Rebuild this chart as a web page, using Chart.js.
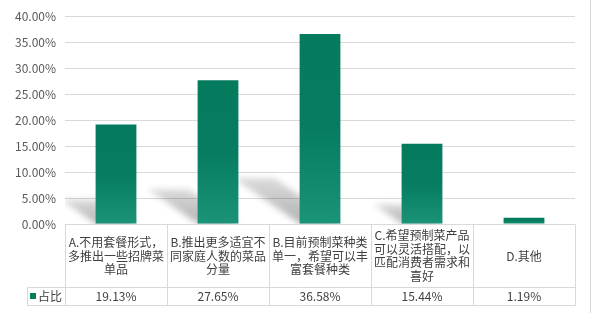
<!DOCTYPE html>
<html>
<head>
<meta charset="utf-8">
<script src="https://cdn.jsdelivr.net/npm/chart.js@4.4.1/dist/chart.umd.min.js"></script>
<style>
  html, body { margin: 0; padding: 0; background: #ffffff; }
  #wrap { width: 591px; height: 313px; }
</style>
</head>
<body>
<div id="wrap"><canvas id="chart" width="591" height="313"></canvas></div>
<script>
// Survey options, one entry per column, already broken into the lines shown in the data table
const categories = [
  ['A.不用套餐形式，', '多推出一些招牌菜', '单品'],
  ['B.推出更多适宜不', '同家庭人数的菜品', '分量'],
  ['B.目前预制菜种类', '单一，希望可以丰', '富套餐种类'],
  ['C.希望预制菜产品', '可以灵活搭配，以', '匹配消费者需求和', '喜好'],
  ['D.其他']
];
const seriesName = '占比';
const shares = [19.13, 27.65, 36.58, 15.44, 1.19];   // percent
const yMin = 0;
const yMax = 40;
const yStep = 5;

const FONT = '"Noto Sans CJK SC", "Microsoft YaHei", sans-serif';
const TEXT = '#404040';
const LINE = '#d9d9d9';
const BAR_DARK = '#057b5e';
const BAR_LIGHT = '#1b9377';

const pct = v => Number(v).toFixed(2) + '%';

// Vertical gradient per bar: deep teal on top, lighter near the floor
function barFill(ctx) {
  const chart = ctx.chart;
  if (!chart.chartArea || ctx.type !== 'data') return BAR_DARK;
  const y = chart.scales.y;
  const top = y.getPixelForValue(ctx.raw);
  const base = y.getPixelForValue(0);
  if (base - top < 1) return BAR_DARK;
  const g = chart.ctx.createLinearGradient(0, top, 0, base);
  g.addColorStop(0, BAR_DARK);
  g.addColorStop(0.5, '#067d60');
  g.addColorStop(1, BAR_LIGHT);
  return g;
}

// Soft perspective shadow cast back and to the left of each bar
const floorShadow = {
  id: 'floorShadow',
  beforeDatasetsDraw(chart) {
    const { ctx, chartArea } = chart;
    const meta = chart.getDatasetMeta(0);
    ctx.save();
    ctx.beginPath();
    ctx.rect(chartArea.left, chartArea.top, chartArea.width, chartArea.height);
    ctx.clip();
    ctx.filter = 'blur(3px)';
    meta.data.forEach(bar => {
      const { x, y, base, width } = bar.getProps(['x', 'y', 'base', 'width'], true);
      const h = base - y;
      const dx = -0.35 * h, dy = -0.24 * h;
      const l = x - width / 2, r = x + width / 2;
      const g = ctx.createLinearGradient(0, base, 0, base + dy);
      g.addColorStop(0, 'rgba(0,0,0,0.30)');
      g.addColorStop(1, 'rgba(0,0,0,0.14)');
      ctx.fillStyle = g;
      ctx.beginPath();
      ctx.moveTo(l, base);
      ctx.lineTo(r, base);
      ctx.lineTo(r + dx, base + dy);
      ctx.lineTo(l + dx, base + dy);
      ctx.closePath();
      ctx.fill();
    });
    ctx.restore();
  }
};

// Data table under the plot: category row, then the value row with legend key
const dataTable = {
  id: 'dataTable',
  afterDraw(chart) {
    const { ctx, chartArea, scales } = chart;
    const n = categories.length;
    const colW = chartArea.width / n;
    const top = Math.round(chartArea.bottom) + 0.5;
    const mid = 287.5;
    const bot = 305.5;
    const keyLeft = 27.5;
    const L = Math.round(chartArea.left) + 0.5;
    const R = Math.round(chartArea.right) + 0.5;

    ctx.save();
    ctx.strokeStyle = LINE;
    ctx.lineWidth = 1;
    ctx.beginPath();
    ctx.moveTo(L, top); ctx.lineTo(R, top);
    ctx.moveTo(keyLeft, mid); ctx.lineTo(R, mid);
    ctx.moveTo(keyLeft, bot); ctx.lineTo(R, bot);
    ctx.moveTo(keyLeft, mid); ctx.lineTo(keyLeft, bot);
    for (let i = 0; i <= n; i++) {
      const xx = Math.round(chartArea.left + colW * i) + 0.5;
      ctx.moveTo(xx, top); ctx.lineTo(xx, bot);
    }
    // outer frame edge on the right
    ctx.moveTo(590.5, 0); ctx.lineTo(590.5, 313);
    ctx.stroke();

    ctx.fillStyle = TEXT;
    ctx.font = '12px ' + FONT;
    ctx.textAlign = 'center';
    ctx.textBaseline = 'middle';
    const lh = 13.6;
    const cellMid = (top + mid) / 2;
    categories.forEach((lines, i) => {
      const cx = scales.x.getPixelForValue(i);
      const y0 = cellMid - (lines.length - 1) * lh / 2;
      lines.forEach((t, k) => ctx.fillText(t, cx, y0 + k * lh));
    });

    const rowMid = (mid + bot) / 2;
    shares.forEach((v, i) => {
      ctx.fillText(pct(v), scales.x.getPixelForValue(i), rowMid);
    });

    // legend key + series name
    ctx.fillStyle = '#077d60';
    ctx.fillRect(30, 293, 6, 6);
    ctx.fillStyle = TEXT;
    ctx.textAlign = 'left';
    ctx.fillText(seriesName, 38, rowMid);
    ctx.restore();
  }
};

new Chart(document.getElementById('chart'), {
  type: 'bar',
  data: {
    labels: categories.map(c => c.join('')),
    datasets: [{
      label: seriesName,
      data: shares,
      backgroundColor: barFill,
      borderWidth: 0,
      barPercentage: 0.4,
      categoryPercentage: 1.0
    }]
  },
  options: {
    responsive: false,
    devicePixelRatio: 1,
    animation: false,
    layout: { padding: { top: 16, right: 16, bottom: 89, left: 0 } },
    plugins: {
      legend: { display: false },
      tooltip: { enabled: false }
    },
    scales: {
      x: {
        display: false
      },
      y: {
        min: yMin,
        max: yMax,
        ticks: {
          stepSize: yStep,
          padding: 9,
          color: '#595959',
          font: { family: FONT, size: 12 },
          callback: v => pct(v)
        },
        grid: { color: LINE, lineWidth: 1, drawTicks: false },
        border: { display: false },
        afterFit(scale) { scale.width = 65; }
      }
    }
  },
  plugins: [floorShadow, dataTable]
});
</script>
</body>
</html>
